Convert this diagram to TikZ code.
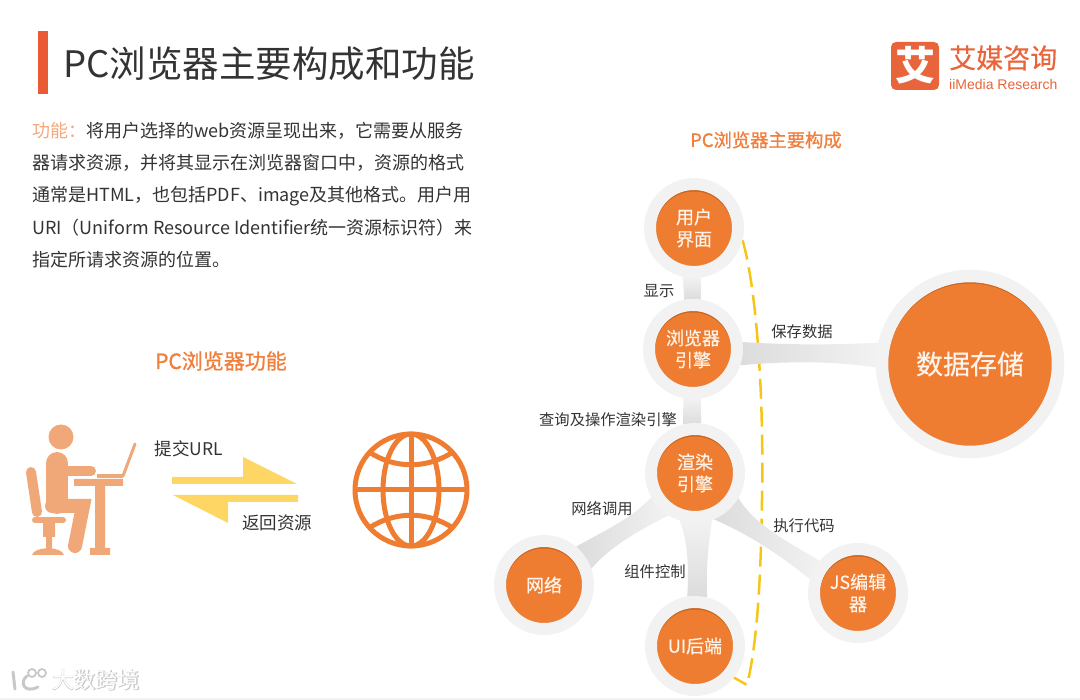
\documentclass[tikz,border=0pt]{standalone}
\usepackage{fontspec}
\setmainfont{Noto Sans CJK SC}
\newfontfamily\latinfont{Liberation Sans}
\newfontfamily\midfont[FakeBold=0.5]{Noto Sans CJK SC}
\newfontfamily\headfont[FakeBold=1]{Noto Sans CJK SC}
\newfontfamily\wmfont[FakeBold=3]{Noto Sans CJK SC}
\usetikzlibrary{backgrounds,calc}
\definecolor{hubfill}{HTML}{EE7D31}
\definecolor{hubedge}{HTML}{C8641F}
\definecolor{hubring}{HTML}{F2F2F2}
\definecolor{hubtext}{HTML}{FDF3EA}
\definecolor{bandlight}{HTML}{F2F2F2}
\definecolor{banddark}{HTML}{DCDCDC}
\definecolor{inktext}{HTML}{333333}
\definecolor{headtext}{HTML}{F07F3C}
\definecolor{softorange}{HTML}{F4A87C}
\definecolor{personfill}{HTML}{F0A878}
\definecolor{arrowyellow}{HTML}{FDD663}
\definecolor{dashyellow}{HTML}{F5C518}
\definecolor{logofill}{HTML}{E8643A}
\definecolor{wmgray}{HTML}{C8C8C8}
\tikzset{hub/.style={circle,inner sep=0pt,minimum size=2*#1+12pt,line width=12pt,draw=hubring,fill=hubedge,align=center,text=hubtext,font=\midfont\fontsize{18}{22}\selectfont,
path picture={\fill[hubfill] ($(path picture bounding box.center)+(0,1.5)$) circle[radius=#1];}},
lbl/.style={font=\fontsize{15.3}{18}\selectfont,text=inktext,inner sep=0pt},
headlbl/.style={font=\headfont\fontsize{#1}{22}\selectfont,text=headtext,inner sep=0pt},
person/.style={draw=personfill,line cap=round}}
\begin{document}
\begin{tikzpicture}[x=1pt,y=-1pt]
\useasboundingbox (0,0) rectangle (1080,700);
\fill[hubring] (0,698) rectangle (1080,700);
% title and logo
\fill[logofill!90!red] (38,31) rectangle (48,94);
\node[anchor=west,inner sep=0pt,font=\fontsize{36.5}{40}\selectfont,text=inktext] (pagetitle) at (63,64) {PC浏览器主要构成和功能};
\fill[logofill,rounded corners=5pt] (891,42) rectangle (939,90);
\node[inner sep=0pt,font=\bfseries\fontsize{40}{40}\selectfont,text=white] (logomark) at (915,65) {艾};
\node[anchor=west,inner sep=0pt,font=\midfont\fontsize{27}{27}\selectfont,text=logofill] (logoname) at (949,58) {艾媒咨询};
\node[anchor=west,inner sep=0pt,font=\latinfont\fontsize{14}{15}\selectfont,text=logofill] (logosub) at (949,84) {iiMedia Research};
% intro text
\node[anchor=north west,inner sep=0pt,align=left,font=\fontsize{18}{32.2}\selectfont,text=inktext] (intro) at (32,122) {\textcolor{softorange}{功能：}将用户选择的web资源呈现出来，它需要从服务\\器请求资源，并将其显示在浏览器窗口中，资源的格式\\通常是HTML，也包括PDF、image及其他格式。用户用\\URI（Uniform Resource Identifier统一资源标识符）来\\指定所请求资源的位置。};
\node[headlbl=18.3] (parts) at (766,140) {PC浏览器主要构成};
\node[headlbl=21] (funcs) at (221,361) {PC浏览器功能};
% person at desk
\fill[personfill] (61,437) circle[radius=12.5];
\draw[person,line width=22pt] (57,463)--(57,503);
\draw[person,line width=14pt] (52,506)--(83,506)--(75,546);
\draw[person,line width=10pt] (60,471)--(91,471);
\draw[person,line width=10pt] (31,472)--(37,512);
\draw[person,line width=6pt] (35,520)--(63,520);
\fill[personfill] (43,523) rectangle (55,537) (46,537) rectangle (52,550);
\fill[personfill] (32,555) .. controls (34,546) and (62,546) .. (64,555) -- cycle;
\fill[personfill] (74,479) rectangle (123,486) (95,486) rectangle (105,550) (90,548) rectangle (110,555);
\draw[personfill,line width=4pt] (97,476)--(123,476);
\draw[person,line width=3pt] (123,476)--(135,444);
% exchange arrows
\fill[arrowyellow] (172,477)--(243,477)--(243,457)--(297,484)--(172,484)--cycle;
\fill[arrowyellow] (298,495)--(173,495)--(228,523)--(228,502)--(298,502)--cycle;
\node[lbl,font=\fontsize{17.5}{20}\selectfont] (submit) at (189,449) {提交URL};
\node[lbl,font=\fontsize{17.5}{20}\selectfont] (reply) at (277,523) {返回资源};
% globe
\begin{scope}[draw=hubfill,line width=5pt]
\draw (411,490) circle[radius=56];
\draw (411,490) ellipse[x radius=28,y radius=56];
\draw (355,490)--(467,490) (411,434)--(411,546);
\draw (369,452) .. controls (395,469) and (427,469) .. (453,452);
\draw (369,528) .. controls (395,511) and (427,511) .. (453,528);
\end{scope}
% hubs
\node[hub=38] (ui) at (694,228) {用户\\界面};
\node[hub=38] (browser) at (693,349) {浏览器\\引擎};
\node[hub=38] (render) at (695,473) {渲染\\引擎};
\node[hub=38] (net) at (544,585) {网络};
\node[hub=38] (backend) at (695,646) {UI后端};
\node[hub=38] (js) at (858,593) {JS编辑\\器};
\node[hub=82,line width=12.5pt,font=\midfont\fontsize{27}{30}\selectfont] (store) at (970,364) {数据存储};
\begin{pgfonlayer}{background}
\draw[dashyellow,line width=2.5pt,dash pattern=on 20pt off 8pt] (ui.-14) .. controls (757,290) and (764,400) .. (762,500) .. controls (761,570) and (758,640) .. (747,685) -- (backend.-39);
\shade[top color=bandlight,bottom color=banddark] (ui.-103) -- (browser.100) -- (browser.81) -- (ui.-82) -- cycle;
\shade[top color=bandlight,bottom color=banddark] (browser.-101) -- (render.104) -- (render.83) -- (browser.-81) -- cycle;
\shade[left color=banddark,right color=bandlight] (browser.8) .. controls (790,345) and (830,345) .. (store.167) -- (store.182) .. controls (830,361) and (790,361) .. (browser.-19) -- cycle;
\shade[left color=banddark,right color=bandlight] (render.209) .. controls (630,520) and (605,530) .. (net.50) -- (net.19) .. controls (612,545) and (640,530) .. (render.238) -- cycle;
\shade[top color=bandlight,bottom color=banddark] (render.252) .. controls (688,540) and (689,570) .. (backend.99) -- (backend.76) .. controls (706,570) and (708,545) .. (render.290) -- cycle;
\shade[left color=banddark,right color=bandlight] (render.-30) .. controls (755,525) and (785,540) .. (js.140) -- (js.164) .. controls (780,555) and (750,535) .. (render.-68) -- cycle;
\end{pgfonlayer}
\node[lbl] (showlbl) at (659,291) {显示};
\node[lbl] (savelbl) at (802,332) {保存数据};
\node[lbl] (querylbl) at (608,420) {查询及操作渲染引擎};
\node[lbl] (netlbl) at (602,509) {网络调用};
\node[lbl] (ctrllbl) at (655,572) {组件控制};
\node[lbl] (runlbl) at (804,526) {执行代码};
% watermark
\draw[wmgray,line width=3pt,line cap=round] (13,672)--(15,689) (27,676) .. controls (19,682) and (24,694) .. (38,687);
\draw[wmgray,line width=1.8pt] (32,673) circle[radius=4] (42,673) circle[radius=4];
\node[inner sep=0pt,font=\wmfont\fontsize{22}{24}\selectfont,text=wmgray] (wmback) at (96,680) {大数跨境};
\node[inner sep=0pt,font=\fontsize{22}{24}\selectfont,text=white] (wmfront) at (96,680) {大数跨境};
\end{tikzpicture}
\end{document}
